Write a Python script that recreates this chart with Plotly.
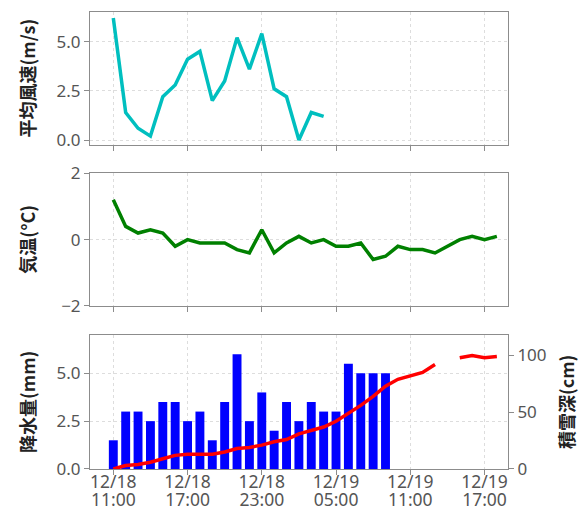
import pandas as pd
import plotly.graph_objects as go

# ---- data ----
start_time = "2023-12-18 11:00"
n_hours = 32
times = list(pd.date_range(start_time, periods=n_hours, freq="h"))

wind_speed = [6.2, 1.4, 0.6, 0.2, 2.2, 2.8, 4.1, 4.5, 2.0, 3.0, 5.2, 3.6, 5.4, 2.6, 2.2, 0.0, 1.4, 1.2]
temperature = [1.2, 0.4, 0.2, 0.3, 0.2, -0.2, 0.0, -0.1, -0.1, -0.1, -0.3, -0.4, 0.3, -0.4, -0.1, 0.1,
               -0.1, 0.0, -0.2, -0.2, -0.1, -0.6, -0.5, -0.2, -0.3, -0.3, -0.4, -0.2, 0.0, 0.1, 0.0, 0.1]
precipitation = [1.5, 3.0, 3.0, 2.5, 3.5, 3.5, 2.5, 3.0, 1.5, 3.5, 6.0, 2.5, 4.0, 2.0, 3.5, 2.5, 3.5,
                 3.0, 3.0, 5.5, 5.0, 5.0, 5.0]
snow_depth = [0, 3, 4, 6, 9, 12, 13, 13, 13, 15, 18, 19, 21, 24, 26, 31, 34, 37, 42, 49, 56, 64, 73,
              79, 82, 85, 92, None, 98, 100, 98, 99]

tick_times = ["2023-12-18 11:00", "2023-12-18 17:00", "2023-12-18 23:00",
              "2023-12-19 05:00", "2023-12-19 11:00", "2023-12-19 17:00"]
x_range = ["2023-12-18 09:07", "2023-12-19 18:54"]

FONT = "Noto Sans"
CJK = "Noto Sans CJK JP"
TICK_COLOR = "#555555"
FRAME = "#8c8c8c"
GRID = "#dddddd"

fig = go.Figure()
fig.add_trace(go.Scatter(x=times[:len(wind_speed)], y=wind_speed, mode="lines",
                         line=dict(color="#00BFBF", width=3.5), xaxis="x", yaxis="y", showlegend=False))
fig.add_trace(go.Scatter(x=times, y=temperature, mode="lines",
                         line=dict(color="#008000", width=3.5), xaxis="x2", yaxis="y2", showlegend=False))
fig.add_trace(go.Bar(x=times[:len(precipitation)], y=precipitation, width=0.72 * 3600000,
                     marker=dict(color="#0000FF", line=dict(width=0)), xaxis="x3", yaxis="y3", showlegend=False))
fig.add_trace(go.Scatter(x=times, y=snow_depth, mode="lines", connectgaps=False,
                         line=dict(color="#FF0000", width=3.5), xaxis="x4", yaxis="y4", showlegend=False))

xcommon = dict(type="date", range=x_range, tickvals=tick_times, showgrid=True, gridcolor=GRID,
               griddash="dot", showline=True, linecolor=FRAME, linewidth=1, mirror=True,
               ticks="outside", ticklen=5, tickcolor=FRAME, zeroline=False,
               tickfont=dict(family=FONT, size=17.5, color=TICK_COLOR))
ycommon = dict(showgrid=True, gridcolor=GRID, griddash="dot", showline=True, linecolor=FRAME,
               linewidth=1, mirror=True, ticks="outside", ticklen=5, tickcolor=FRAME, zeroline=False,
               tickfont=dict(family=FONT, size=17, color=TICK_COLOR))

fig.update_layout(
    width=580, height=503,
    margin=dict(l=82, r=80, t=4, b=42, autoexpand=False),
    plot_bgcolor="white", paper_bgcolor="white",
    xaxis=dict(xcommon, domain=[0, 1], anchor="y", showticklabels=False),
    xaxis2=dict(xcommon, domain=[0, 1], anchor="y2", showticklabels=False),
    xaxis3=dict(xcommon, domain=[0, 1], anchor="y3", showticklabels=True,
                tickformat="%m/%d", ticklabelstandoff=-8),
    xaxis4=dict(type="date", range=x_range, tickvals=tick_times, overlaying="x3", anchor="y3",
                side="bottom", showgrid=False, showline=False, zeroline=False,
                ticks="outside", ticklen=5, tickcolor="rgba(0,0,0,0)",
                tickformat="%H:%M", ticklabelstandoff=10,
                tickfont=dict(family=FONT, size=17.5, color=TICK_COLOR)),
    yaxis=dict(ycommon, domain=[0.709, 1.0], range=[-0.25, 6.5], tickvals=[0, 2.5, 5.0],
               tickformat=".1f", anchor="x"),
    yaxis2=dict(ycommon, domain=[0.3567, 0.647], range=[-2, 2], tickvals=[-2, 0, 2], anchor="x2"),
    yaxis3=dict(ycommon, domain=[0.0, 0.2932], range=[0, 7.0], tickvals=[0, 2.5, 5.0],
                tickformat=".1f", anchor="x3"),
    yaxis4=dict(overlaying="y3", side="right", anchor="x4", range=[0, 118], tickvals=[0, 50, 100],
                showgrid=False, zeroline=False, showline=False, ticks="outside", ticklen=5,
                tickcolor=FRAME, tickfont=dict(family=FONT, size=17, color=TICK_COLOR)),
)

title_font = dict(family=CJK, size=18, color="#222222")
titles = [
    ("<b>平均風速(m/s)</b>", -0.1507, (0.709 + 1.0) / 2),
    ("<b>気温(°C)</b>", -0.1507, (0.3567 + 0.647) / 2),
    ("<b>降水量(mm)</b>", -0.1507, 0.2932 / 2),
    ("<b>積雪深(cm)</b>", 1.1388, 0.2932 / 2),
]
for text, x, y in titles:
    fig.add_annotation(text=text, x=x, y=y, xref="paper", yref="paper", showarrow=False,
                       textangle=-90, font=title_font, xanchor="center", yanchor="middle")

fig.write_html("out.html")
